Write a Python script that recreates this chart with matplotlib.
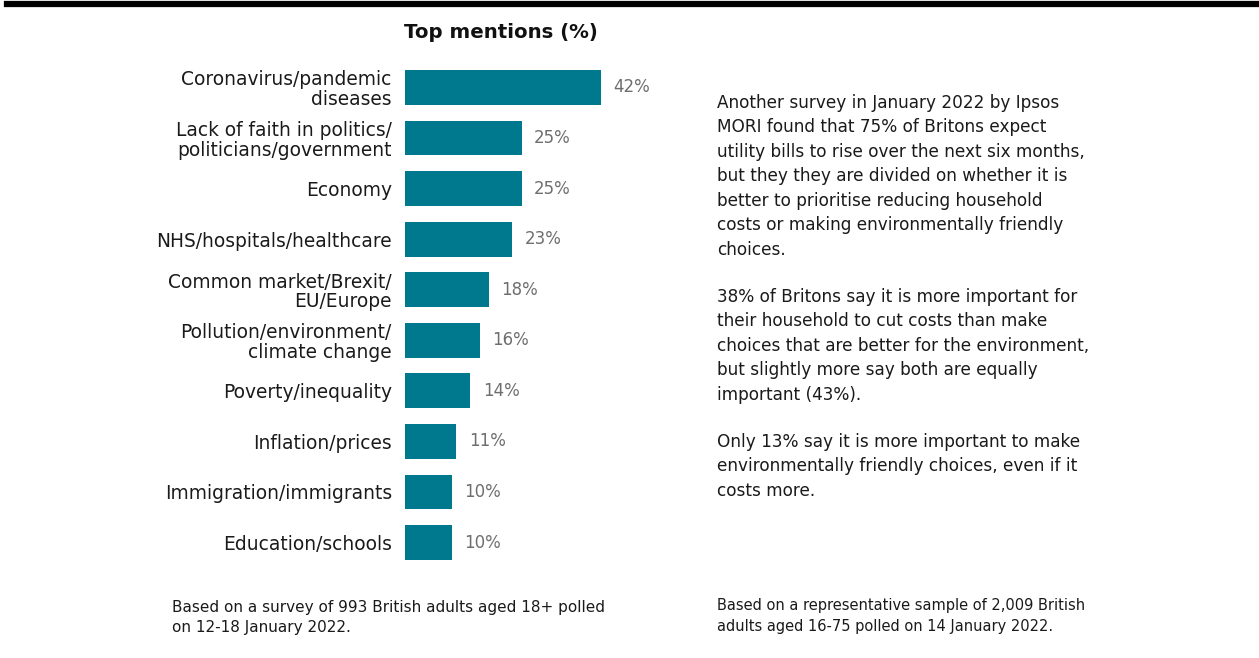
import matplotlib
matplotlib.use("Agg")
import matplotlib.pyplot as plt

categories = [
    "Coronavirus/pandemic\ndiseases",
    "Lack of faith in politics/\npoliticians/government",
    "Economy",
    "NHS/hospitals/healthcare",
    "Common market/Brexit/\nEU/Europe",
    "Pollution/environment/\nclimate change",
    "Poverty/inequality",
    "Inflation/prices",
    "Immigration/immigrants",
    "Education/schools",
]
values = [42, 25, 25, 23, 18, 16, 14, 11, 10, 10]

title = "Top mentions (%)"
paragraphs = [
    "Another survey in January 2022 by Ipsos\nMORI found that 75% of Britons expect\n"
    "utility bills to rise over the next six months,\nbut they they are divided on whether it is\n"
    "better to prioritise reducing household\ncosts or making environmentally friendly\nchoices.",
    "38% of Britons say it is more important for\ntheir household to cut costs than make\n"
    "choices that are better for the environment,\nbut slightly more say both are equally\nimportant (43%).",
    "Only 13% say it is more important to make\nenvironmentally friendly choices, even if it\ncosts more.",
]
note_left = "Based on a survey of 993 British adults aged 18+ polled\non 12-18 January 2022."
note_right = "Based on a representative sample of 2,009 British\nadults aged 16-75 polled on 14 January 2022."

W, H = 1259, 658
BAR = "#00798f"
plt.rcParams["font.family"] = "DejaVu Sans"

fig = plt.figure(figsize=(W / 100, H / 100), dpi=100)


def fx(x):
    return x / W


def fy(y):
    return 1 - y / H


# top rule
fig.add_artist(plt.Line2D([fx(7), 1], [fy(4), fy(4)], color="black", lw=4.5))

# bar panel
top, bottom = 62.2, 567.8
ax = fig.add_axes([fx(405), fy(bottom), fx(601) - fx(405), (bottom - top) / H])
pos = list(range(len(categories)))
ax.barh(pos, values, height=0.69, color=BAR)
ax.set_xlim(0, 42)
ax.set_ylim(len(categories) - 0.5, -0.5)
ax.set_yticks(pos)
ax.set_yticklabels(categories, fontsize=13.4, color="#1a1a1a", linespacing=1.05)
ax.tick_params(axis="y", length=0, pad=9.5)
ax.set_xticks([])
for s in ax.spines.values():
    s.set_visible(False)
for i, v in enumerate(values):
    ax.annotate(f"{v}%", (v, i), xytext=(9, 0), textcoords="offset points",
                va="center", ha="left", fontsize=12, color="#6e6e6e",
                annotation_clip=False)

fig.text(fx(501), fy(33), title, ha="center", va="center",
         fontsize=14.2, fontweight="bold", color="#111111")

# commentary
para_tops = [94, 288, 433]
for t, p in zip(para_tops, paragraphs):
    fig.text(fx(717), fy(t), p, ha="left", va="top", fontsize=12.2,
             color="#1a1a1a", linespacing=1.46)

fig.text(fx(172), fy(600), note_left, ha="left", va="top", fontsize=11,
         color="#1a1a1a", linespacing=1.42)
fig.text(fx(717), fy(598), note_right, ha="left", va="top", fontsize=10.5,
         color="#1a1a1a", linespacing=1.48)

fig.savefig("out.png", dpi=100, facecolor="white")
